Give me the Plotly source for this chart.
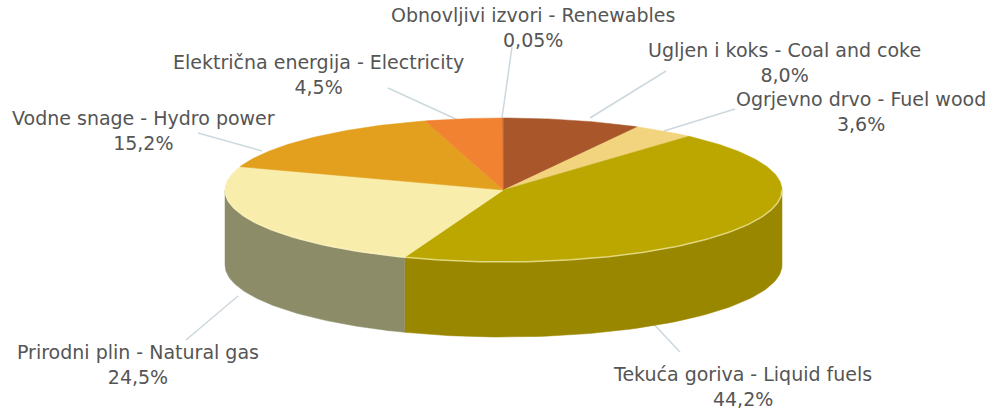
import numpy as np
import plotly.graph_objects as go

# Energy consumption shares (clockwise from 12 o'clock)
labels = [
    "Ugljen i koks - Coal and coke",
    "Ogrjevno drvo - Fuel wood",
    "Tekuća goriva - Liquid fuels",
    "Prirodni plin - Natural gas",
    "Vodne snage - Hydro power",
    "Električna energija - Electricity",
    "Obnovljivi izvori - Renewables",
]
shares = [8.0, 3.6, 44.2, 24.5, 15.2, 4.5, 0.05]
share_text = ["8,0%", "3,6%", "44,2%", "24,5%", "15,2%", "4,5%", "0,05%"]

top_colors = ["#A8562A", "#F3D47E", "#BBA700", "#F8EDAA", "#E2A01E", "#F08232", "#C0602A"]
side_colors = ["#8A4420", "#D8B860", "#9A8700", "#8C8C68", "#C08418", "#D06A22", "#9A4A20"]

# label anchor positions (pixel space)
label_pos = [(784, 62), (861, 111), (742, 386), (138, 364), (143, 130), (318, 74), (533, 27)]
# leader lines: from slice edge to label
leader_start = [(590, 118), (664, 131), (647, 317), (238, 296), (262, 151), (458, 120), (502, 118)]
leader_end = [(666, 71), (735, 109), (680, 352), (186, 340), (198, 133), (388, 88), (512, 47)]

W, H = 987, 411
cx, cy, a, b, depth = 503.5, 190.0, 278.5, 72.0, 75.0


def rim(theta_deg, dy=0.0):
    t = np.radians(theta_deg)
    return cx + a * np.sin(t), cy - b * np.cos(t) + dy


fig = go.Figure()

total = sum(shares)
bounds = np.concatenate([[0], np.cumsum(shares) / total * 360.0])

# leader lines drawn first so the pie sits on top of their ends
for i in range(len(shares)):
    (sx, sy), (ex, ey) = leader_start[i], leader_end[i]
    fig.add_trace(go.Scatter(x=[sx, ex], y=[sy, ey], mode="lines",
                             line=dict(color="#CCD8DE", width=1.5), hoverinfo="skip", showlegend=False))

# side walls (only the front half, 90..270 deg, is visible)
for i in range(len(shares)):
    t1, t2 = max(bounds[i], 90.0), min(bounds[i + 1], 270.0)
    if t2 <= t1:
        continue
    th = np.linspace(t1, t2, 80)
    xt, yt = rim(th)
    xb, yb = rim(th[::-1], depth)
    fig.add_trace(go.Scatter(
        x=np.concatenate([xt, xb, xt[:1]]), y=np.concatenate([yt, yb, yt[:1]]),
        mode="lines", fill="toself", fillcolor=side_colors[i],
        line=dict(color=side_colors[i], width=0.5), hoverinfo="skip", showlegend=False))

# top faces
for i in range(len(shares)):
    th = np.linspace(bounds[i], bounds[i + 1], max(int(shares[i] * 4), 3))
    xs, ys = rim(th)
    fig.add_trace(go.Scatter(
        x=np.concatenate([[cx], xs, [cx]]), y=np.concatenate([[cy], ys, [cy]]),
        mode="lines", fill="toself", fillcolor=top_colors[i],
        line=dict(color=top_colors[i], width=0.5),
        name=labels[i], text=share_text[i], hoverinfo="name+text", showlegend=False))

# light rim along the front edge of the top face
th = np.linspace(90, 270, 200)
xr, yr = rim(th)
fig.add_trace(go.Scatter(x=xr, y=yr, mode="lines", line=dict(color="rgba(255,250,200,0.6)", width=1.5),
                         hoverinfo="skip", showlegend=False))

# labels
for i in range(len(shares)):
    lx, ly = label_pos[i]
    fig.add_annotation(x=lx, y=ly, text=f"{labels[i]}<br>{share_text[i]}", showarrow=False,
                       font=dict(family="DejaVu Sans", size=19, color="#555555"),
                       align="center", xanchor="center", yanchor="middle")

fig.update_layout(
    width=W, height=H, margin=dict(l=0, r=0, t=0, b=0),
    paper_bgcolor="white", plot_bgcolor="white",
    xaxis=dict(range=[0, W], visible=False, fixedrange=True),
    yaxis=dict(range=[H, 0], visible=False, fixedrange=True),
)

fig.write_html("out.html")
